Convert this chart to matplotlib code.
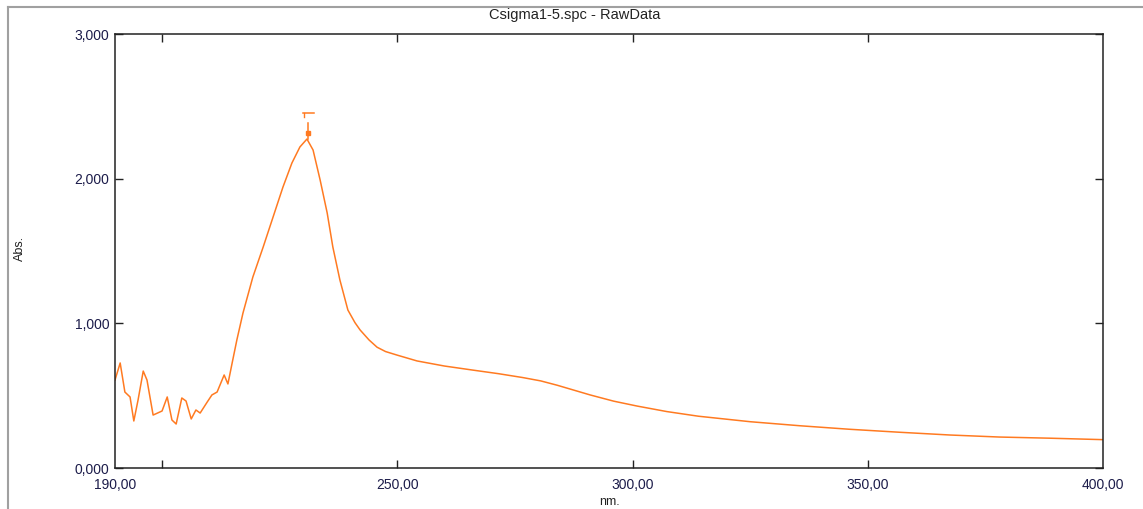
import matplotlib
matplotlib.use('Agg')

import numpy as np
import matplotlib.pyplot as plt
from matplotlib.lines import Line2D

# ==========================================
# 1. DATA
# ==========================================
wavelength = [190.0, 191.1, 192.1, 193.2, 194.0, 194.9, 196.0, 196.8, 198.1, 200.0,
              201.1, 202.1, 203.0, 204.2, 205.1, 206.2, 207.2, 208.1, 209.6, 210.6,
              211.7, 213.2, 214.0, 214.9, 215.9, 217.2, 219.3, 221.5, 223.6, 225.7,
              227.6, 229.3, 230.8, 232.1, 233.6, 235.1, 236.3, 237.8, 239.5, 241.0,
              242.1, 244.0, 245.7, 247.5, 250.0, 254.2, 260.0, 266.0, 271.5, 276.7,
              280.5, 284.0, 291.0, 296.0, 301.0, 307.3, 314.0, 325.0, 335.6, 346.0,
              356.8, 367.5, 378.0, 388.7, 400.0]
absorb = [608, 726, 525, 491, 325, 470, 670, 608, 366, 394,
          491, 332, 304, 484, 463, 339, 401, 380, 456, 505,
          525, 643, 581, 726, 885, 1071, 1320, 1528, 1735, 1942,
          2108, 2219, 2274, 2198, 1991, 1763, 1528, 1300, 1092, 1005,
          954, 885, 835, 805, 780, 740, 705, 677, 652, 625,
          602, 572, 505, 462, 428, 390, 358, 320, 292, 268,
          247, 228, 214, 206, 196]

# peak pick marker
PEAK_X = 231.0
PEAK_MARK_Y = 2315
PEAK_LINE_TOP = 2385
PEAK_BAR_Y = 2454

x_ticks = [200, 250, 300, 350]
x_tick_labels = ['', '250,00', '300,00', '350,00']
x_edge_labels = [(190, '190,00'), (400, '400,00')]
y_ticks = [0, 1000, 2000, 3000]
y_tick_labels = ['0,000', '1,000', '2,000', '3,000']

LINE_COLOR = '#ff7a21'
TEXT_COLOR = '#1c1c4a'

# ==========================================
# 2. PLOT
# ==========================================
plt.rcParams['font.family'] = ['Liberation Sans', 'DejaVu Sans']

fig = plt.figure(figsize=(11.43, 5.09), dpi=100)
ax = fig.add_axes([115 / 1143, 41 / 509, 988 / 1143, 434 / 509])

ax.plot(wavelength, absorb, color=LINE_COLOR, linewidth=1.1)

# peak marker
ax.plot([PEAK_X, PEAK_X], [absorb[32], PEAK_LINE_TOP], color=LINE_COLOR, linewidth=1.1)
ax.plot([PEAK_X], [PEAK_MARK_Y], marker='s', markersize=3, color=LINE_COLOR)
ax.plot([PEAK_X - 1.0, PEAK_X + 1.2], [PEAK_BAR_Y, PEAK_BAR_Y], color=LINE_COLOR, linewidth=1.1)
ax.plot([PEAK_X - 0.9, PEAK_X - 0.9], [PEAK_BAR_Y, PEAK_BAR_Y - 25], color=LINE_COLOR, linewidth=1.0)

ax.set_xlim(190, 400)
ax.set_ylim(0, 3000)

ax.set_xticks(x_ticks)
ax.set_xticklabels(x_tick_labels)
ax.set_yticks(y_ticks)
ax.set_yticklabels(y_tick_labels)

ax.tick_params(axis='both', direction='in', length=6, width=1.0, color='#222222',
               labelsize=10, labelcolor=TEXT_COLOR)
ax.tick_params(axis='x', top=True, pad=7)
ax.tick_params(axis='y', right=True, pad=4)

# end labels of the x axis (no tick marks there)
for xv, lab in x_edge_labels:
    ax.annotate(lab, xy=(xv, 0), xycoords=('data', 'axes fraction'),
                xytext=(0, -7), textcoords='offset points', ha='center', va='top',
                fontsize=10, color=TEXT_COLOR, annotation_clip=False)

for sp in ax.spines.values():
    sp.set_linewidth(1.1)
    sp.set_color('#222222')

fig.text(575 / 1143, 1 - 15 / 509, 'Csigma1-5.spc - RawData', ha='center', va='center',
         fontsize=10.5, color='#222222')
fig.text(20 / 1143, 1 - 248 / 509, 'Abs.', ha='center', va='center', rotation=90,
         fontsize=9, color='#222222')
fig.text(609 / 1143, 1 - 502 / 509, 'nm.', ha='center', va='center',
         fontsize=9, color='#222222')

# outer gray frame (top and left edges visible)
fig.add_artist(Line2D([8 / 1143, 1.0], [1 - 7 / 509, 1 - 7 / 509], color='#a0a0a0', linewidth=1.5))
fig.add_artist(Line2D([8 / 1143, 8 / 1143], [0.0, 1 - 7 / 509], color='#a0a0a0', linewidth=1.5))

fig.savefig('out.png', dpi=100)
